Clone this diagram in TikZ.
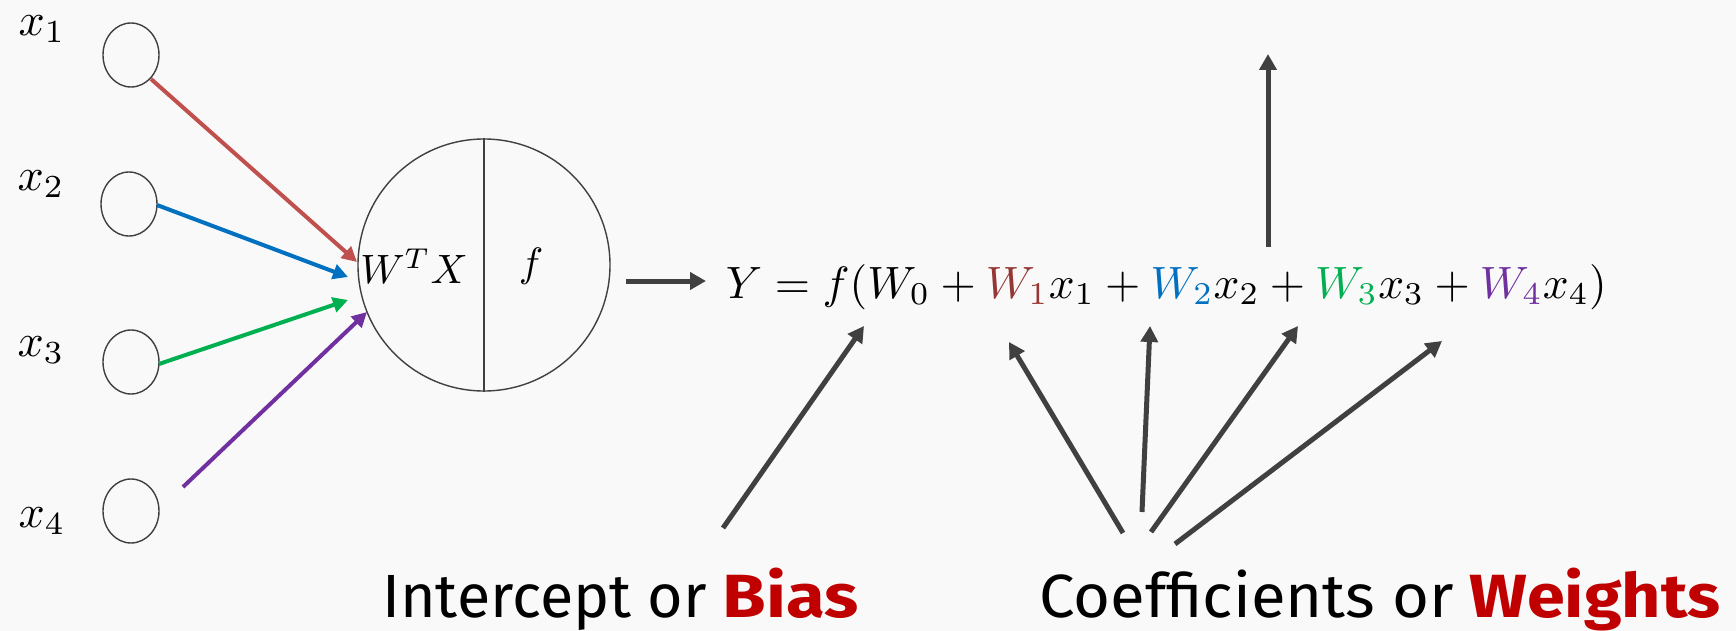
\documentclass[tikz,border=0pt]{standalone}
\usepackage{fontspec}
\setsansfont{Fira Sans}
\usetikzlibrary{arrows.meta,shapes.geometric}
\definecolor{bg}{RGB}{249,249,249}
\definecolor{dg}{RGB}{64,64,64}
\definecolor{ared}{RGB}{192,80,77}
\definecolor{ablue}{RGB}{0,112,192}
\definecolor{agreen}{RGB}{0,176,80}
\definecolor{apurple}{RGB}{112,48,160}
\definecolor{wred}{RGB}{149,55,53}
\definecolor{lblred}{RGB}{192,0,0}
\begin{document}
\begin{tikzpicture}[x=1pt,y=-1pt,
  inp/.style={draw=dg, line width=1.4pt, ellipse, minimum width=56pt, minimum height=64pt, inner sep=0pt},
  neuron/.style={draw=dg, line width=1.4pt, circle, minimum size=252pt, inner sep=0pt},
  lbl/.style={inner sep=0pt, scale=4.6},
  inarrow/.style={line width=4pt, -{Triangle[length=15pt,width=15pt]}},
  darrow/.style={draw=dg, line width=5pt, -{Triangle[length=16pt,width=17pt]}},
  captxt/.style={inner sep=0pt, anchor=base west, font=\sffamily\fontsize{61}{70}\selectfont}
  ]
\fill[bg] (0,0) rectangle (1736,631);
\useasboundingbox (0,0) rectangle (1736,631);

% input nodes
\node[inp] (c1) at (131,55) {};
\node[inp] (c2) at (129,204) {};
\node[inp] (c3) at (131,362) {};
\node[inp] (c4) at (131,511) {};
\node[lbl] (l1) at (42,29) {$x_1$};
\node[lbl] (l2) at (41,184) {$x_2$};
\node[lbl] (l3) at (41,350) {$x_3$};
\node[lbl] (l4) at (42,521) {$x_4$};

% neuron
\node[neuron] (n) at (484,265) {};
\draw[dg, line width=1.4pt] (n.north) -- (n.south);
\node[inner sep=0pt, scale=4.1] (wtx) at (414,266) {$W^T X$};
\node[inner sep=0pt, scale=4.1] (fn) at (531,266) {$f$};

% input arrows
\coordinate (s1) at (151,79);
\coordinate (e1) at (357,262);
\coordinate (s2) at (157,205);
\coordinate (e2) at (348,277);
\coordinate (s3) at (159,364);
\coordinate (e3) at (348,300);
\coordinate (s4) at (183,487);
\coordinate (e4) at (367,312);
\draw[inarrow, ared] (s1) -- (e1);
\draw[inarrow, ablue] (s2) -- (e2);
\draw[inarrow, agreen] (s3) -- (e3);
\draw[inarrow, apurple] (s4) -- (e4);

% output
\coordinate (os) at (626,281);
\coordinate (oe) at (706,281);
\draw[darrow] (os) -- (oe);

\node[inner sep=0pt, scale=4.53, anchor=base west] (eq) at (725,298) {$Y = f(W_0 + {\color{wred}W_1}x_1 + {\color{ablue}W_2}x_2 + {\color{agreen}W_3}x_3 + {\color{apurple}W_4}x_4)$};

\coordinate (us) at (1268,247);
\coordinate (ue) at (1268,54);
\draw[darrow] (us) -- (ue);

% captions
\node[captxt] (bias) at (382,617) {Intercept or \textcolor{lblred}{\bfseries\scalebox{1.16}[1]{Bias}}};
\node[captxt] (wts) at (1039,617) {\scalebox{1.04}[1]{Coefficients or} \textcolor{lblred}{\bfseries\scalebox{1.12}[1]{Weights}}};

\coordinate (b0) at (723,528);
\coordinate (b1) at (864,326);
\draw[darrow] (b0) -- (b1);

\coordinate (w1s) at (1123,533);
\coordinate (w1e) at (1009,342);
\coordinate (w2s) at (1142,512);
\coordinate (w2e) at (1150,326);
\coordinate (w3s) at (1151,532);
\coordinate (w3e) at (1298,326);
\coordinate (w4s) at (1175,544);
\coordinate (w4e) at (1442,341);
\draw[darrow] (w1s) -- (w1e);
\draw[darrow] (w2s) -- (w2e);
\draw[darrow] (w3s) -- (w3e);
\draw[darrow] (w4s) -- (w4e);
\end{tikzpicture}
\end{document}
